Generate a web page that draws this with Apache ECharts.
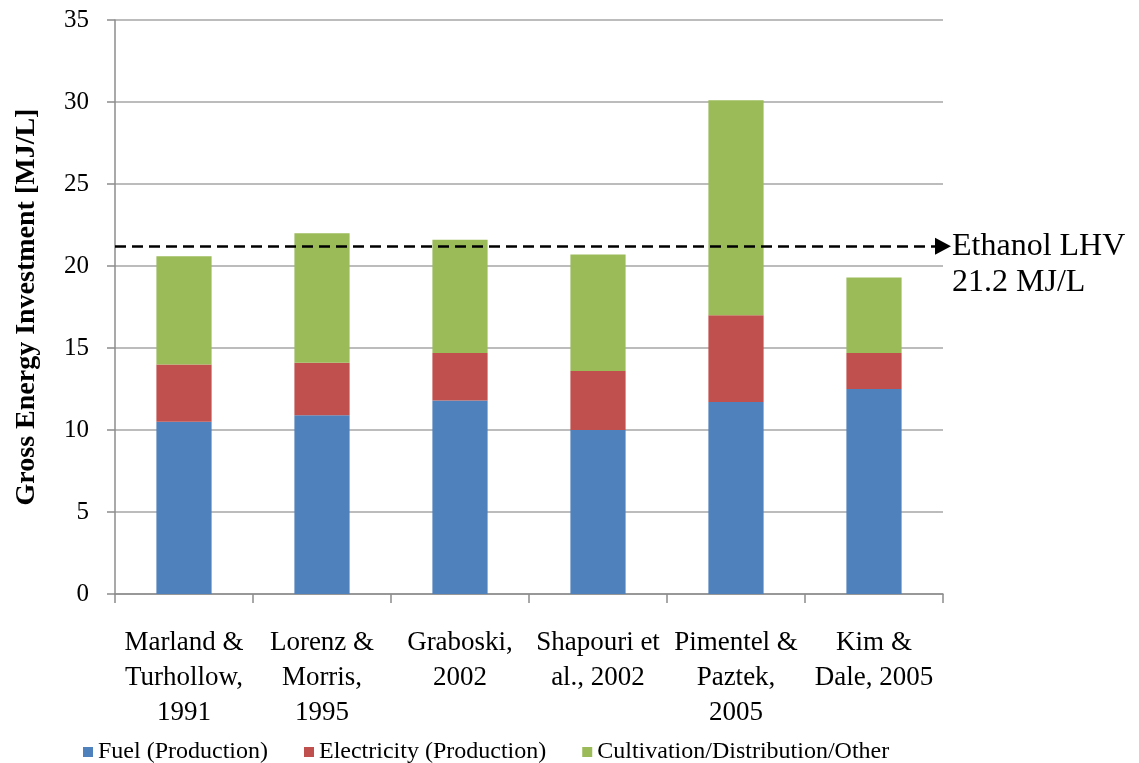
<!DOCTYPE html>
<html>
<head>
<meta charset="utf-8">
<title>Gross Energy Investment</title>
<script src="https://cdn.jsdelivr.net/npm/echarts@6/dist/echarts.min.js"></script>
<style>
  html, body { margin: 0; padding: 0; background: #ffffff; }
  #chart { width: 1139px; height: 763px; }
</style>
</head>
<body>
<div id="chart"></div>
<script>
// Studies compared (one stacked bar each)
const studies = [
  'Marland &\nTurhollow,\n1991',
  'Lorenz &\nMorris,\n1995',
  'Graboski,\n2002',
  'Shapouri et\nal., 2002',
  'Pimentel &\nPaztek,\n2005',
  'Kim &\nDale, 2005'
];

// Energy inputs per litre of ethanol [MJ/L]
const fuelProduction = [10.5, 10.9, 11.8, 10.0, 11.7, 12.5];
const electricityProduction = [3.5, 3.2, 2.9, 3.6, 5.3, 2.2];
const cultivationOther = [6.6, 7.9, 6.9, 7.1, 13.1, 4.6];

const seriesNames = ['Fuel (Production)', 'Electricity (Production)', 'Cultivation/Distribution/Other'];

// Lower heating value of ethanol [MJ/L]
const ethanolLHV = 21.2;

// Value axis ticks
const yMin = 0;
const yMax = 35;
const yStep = 5;

const serif = '"Liberation Serif", "DejaVu Serif", serif';
const gridGray = '#a6a6a6';
const axisGray = '#8c8c8c';

const chart = echarts.init(document.getElementById('chart'), null, { renderer: 'canvas' });

const barBase = {
  type: 'bar',
  stack: 'total',
  barWidth: '40%',
  emphasis: { disabled: true }
};

chart.setOption({
  animation: false,
  backgroundColor: '#ffffff',
  color: ['#4f81bd', '#c0504d', '#9bbb59'],
  grid: { left: 115, right: 196, top: 20, bottom: 169, containLabel: false },
  legend: {
    data: seriesNames,
    left: 78,
    top: 735,
    icon: 'rect',
    itemWidth: 10,
    itemHeight: 10,
    itemGap: 36,
    textStyle: { fontFamily: serif, fontSize: 24, color: '#000' }
  },
  xAxis: {
    type: 'category',
    data: studies,
    axisLine: { lineStyle: { color: axisGray, width: 1.5 } },
    axisTick: { show: true, length: 9, lineStyle: { color: axisGray, width: 1.5 } },
    axisLabel: {
      interval: 0,
      margin: 31,
      color: '#000',
      fontFamily: serif,
      fontSize: 27,
      lineHeight: 35,
      align: 'center'
    },
    splitLine: { show: false }
  },
  yAxis: {
    type: 'value',
    min: yMin,
    max: yMax,
    interval: yStep,
    name: 'Gross Energy Investment [MJ/L]',
    nameLocation: 'middle',
    nameGap: 74,
    nameTextStyle: { fontFamily: serif, fontSize: 28, fontWeight: 'bold', color: '#000' },
    axisLine: { show: true, lineStyle: { color: axisGray, width: 1.5 } },
    axisTick: { show: true, length: 8, lineStyle: { color: axisGray, width: 1.5 } },
    axisLabel: { margin: 26, color: '#000', fontFamily: serif, fontSize: 25 },
    splitLine: { show: true, lineStyle: { color: gridGray, width: 1.5 } }
  },
  series: [
    Object.assign({}, barBase, {
      name: seriesNames[0],
      data: fuelProduction,
      markLine: {
        silent: true,
        symbol: ['none', 'triangle'],
        symbolSize: [17, 16],
        lineStyle: { color: '#000', width: 2.5, type: [11, 6] },
        label: {
          show: true,
          position: 'end',
          distance: 9,
          // leading blank line keeps the first text line level with the dashed line
          formatter: '\nEthanol LHV\n' + ethanolLHV + ' MJ/L',
          fontFamily: serif,
          fontSize: 32,
          lineHeight: 36,
          color: '#000'
        },
        data: [{ yAxis: ethanolLHV }]
      }
    }),
    Object.assign({}, barBase, { name: seriesNames[1], data: electricityProduction }),
    Object.assign({}, barBase, { name: seriesNames[2], data: cultivationOther })
  ]
});
</script>
</body>
</html>
